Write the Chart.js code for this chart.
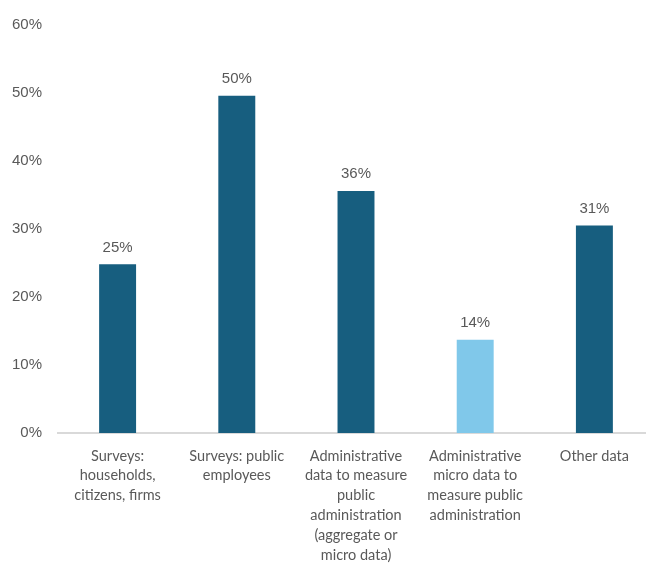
<!DOCTYPE html>
<html>
<head>
<meta charset="utf-8">
<script src="https://cdn.jsdelivr.net/npm/chart.js@4.4.1/dist/chart.umd.min.js"></script>
<style>
  html, body { margin: 0; padding: 0; background: #fff; overflow: hidden; }
  #wrap { width: 654px; height: 565px; }
</style>
</head>
<body>
<div id="wrap"><canvas id="chart" width="654" height="565"></canvas></div>
<script>
// data
const categories = [
    ['Surveys:', 'households,', 'citizens, firms'],
    ['Surveys: public', 'employees'],
    ['Administrative', 'data to measure', 'public', 'administration', '(aggregate or', 'micro data)'],
    ['Administrative', 'micro data to', 'measure public', 'administration'],
    ['Other data']
];
const shares = [24.8, 49.6, 35.6, 13.7, 30.5];
const barColors = ['#175e7f', '#175e7f', '#175e7f', '#80c8ea', '#175e7f'];
const yTicks = [0, 10, 20, 30, 40, 50, 60];

const TEXT = '#595959';

// value labels above bars
const valueLabels = {
    id: 'valueLabels',
    afterDatasetsDraw(chart) {
        const ctx = chart.ctx;
        const meta = chart.getDatasetMeta(0);
        ctx.save();
        ctx.font = '15px "Liberation Sans", Arial, sans-serif';
        ctx.fillStyle = TEXT;
        ctx.textAlign = 'center';
        ctx.textBaseline = 'middle';
        meta.data.forEach((bar, i) => {
            ctx.fillText(Math.round(shares[i]) + '%', bar.x, bar.y - 17);
        });
        ctx.restore();
    }
};

new Chart(document.getElementById('chart'), {
    type: 'bar',
    data: {
        labels: categories,
        datasets: [{
            data: shares,
            backgroundColor: barColors,
            barPercentage: 0.31,
            categoryPercentage: 1
        }]
    },
    options: {
        responsive: false,
        animation: false,
        layout: { padding: 0 },
        plugins: { legend: { display: false }, tooltip: { enabled: false } },
        scales: {
            x: {
                grid: { display: false, drawTicks: false },
                border: { color: '#d9d9d9', width: 2 },
                ticks: {
                    color: TEXT,
                    font: { family: 'Lato', size: 14.5, lineHeight: 1.366 },
                    padding: 13,
                    maxRotation: 0,
                    autoSkip: false
                },
                afterFit(scale) { scale.height = 132; }
            },
            y: {
                min: 0,
                max: 60,
                afterBuildTicks(scale) { scale.ticks = yTicks.map(v => ({ value: v })); },
                grid: { display: false, drawTicks: false },
                border: { display: false },
                ticks: {
                    color: TEXT,
                    font: { family: '"Liberation Sans"', size: 15 },
                    padding: 16,
                    callback: v => v + '%'
                },
                afterFit(scale) { scale.width = 58; }
            }
        }
    },
    plugins: [valueLabels]
});
</script>
</body>
</html>
